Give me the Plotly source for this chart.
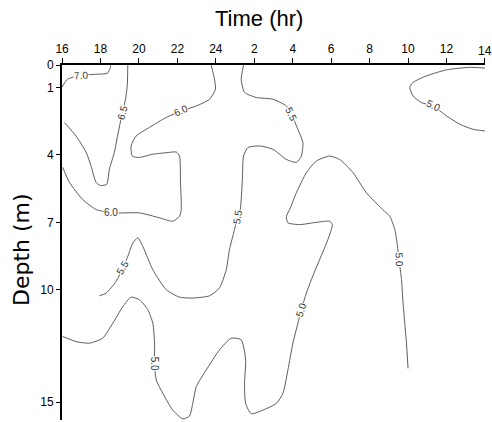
import plotly.graph_objects as go

# Time axis is continuous hours from 16:00 (day 1) to 14:00 (day 2 = 38)
x_ticks = [16, 18, 20, 22, 24, 26, 28, 30, 32, 34, 36, 38]
x_tick_labels = ["16", "18", "20", "22", "24", "2", "4", "6", "8", "10", "12", "14"]
y_ticks = [0, 1, 4, 7, 10, 15]
y_tick_labels = ["0", "1", "4", "7", "10", "15"]

# Isopleth lines (time hr, depth m)
iso70_t = [16.0, 16.28, 17.0, 17.94, 18.36, 18.52, 18.52]
iso70_d = [0.98, 0.63, 0.45, 0.40, 0.36, 0.09, 0.0]

iso65_t = [16.12, 16.73, 17.25, 17.51, 17.77, 17.99, 18.32, 18.46, 18.72, 18.88, 19.14, 19.30, 19.39, 19.42]
iso65_d = [2.56, 3.16, 3.88, 4.50, 5.22, 5.36, 5.31, 4.64, 3.88, 3.17, 2.10, 1.52, 0.92, 0.0]

iso60_t = [23.76, 23.93, 23.98, 23.67, 22.98, 22.20, 21.42, 20.55, 19.85, 19.59, 19.65, 20.03, 20.70,
           21.42, 21.94, 22.11, 22.16, 22.20, 22.11, 21.76, 21.07, 20.03, 18.62, 17.77, 17.07, 16.38, 16.03]
iso60_d = [0.0, 0.63, 1.07, 1.52, 1.82, 2.04, 2.33, 2.77, 3.16, 3.60, 4.05, 4.11, 3.97,
           3.90, 3.87, 4.05, 5.22, 6.43, 6.73, 6.95, 6.80, 6.58, 6.58, 6.43, 5.98, 5.22, 4.55]

iso55_t = [25.44, 25.32, 25.49, 26.10, 26.97, 27.67, 27.93, 28.27, 28.53, 28.45, 28.19, 27.67, 26.97,
           26.28, 25.67, 25.44, 25.38, 25.27, 25.13, 24.97, 24.71, 24.54, 24.19, 23.67, 22.80, 22.11,
           21.42, 20.72, 20.20, 19.94, 19.68, 19.42, 19.16, 18.81, 18.29, 17.94]
iso55_d = [0.0, 0.63, 1.21, 1.44, 1.52, 1.82, 2.19, 2.86, 3.45, 4.05, 4.33, 4.20, 3.75,
           3.60, 3.67, 4.05, 5.09, 6.43, 6.79, 7.32, 8.21, 9.11, 9.92, 10.27, 10.37, 10.33,
           10.0, 9.11, 8.07, 7.69, 7.92, 8.51, 9.03, 9.63, 10.15, 10.27]

iso50a_t = [16.03, 16.73, 17.42, 18.11, 18.64, 19.16, 19.59, 20.03, 20.46, 20.72, 20.81, 20.81, 20.90,
            21.24, 21.76, 22.28, 22.63, 22.80, 22.98, 23.50, 24.19, 24.80, 25.32, 25.55, 25.49, 25.55,
            25.84, 26.45, 27.15, 27.49, 27.75, 28.01, 28.27, 28.45, 28.71, 28.97, 29.40, 29.83, 30.06,
            29.92, 29.23, 28.36, 27.75, 27.67, 27.84, 28.19, 28.71, 29.23, 29.92, 30.44, 31.14, 31.83,
            32.68, 33.05, 33.31, 33.43, 33.53, 33.66, 33.74, 33.83, 33.92, 34.0]
iso50a_d = [12.08, 12.31, 12.38, 12.16, 11.49, 10.75, 10.33, 10.45, 10.89, 11.49, 12.38, 13.27, 14.02,
            14.61, 15.36, 15.75, 15.62, 15.06, 14.32, 13.57, 12.68, 12.16, 12.23, 13.13, 14.17, 15.06,
            15.52, 15.36, 15.06, 14.61, 13.57, 12.38, 11.49, 10.89, 10.15, 9.55, 8.66, 7.77, 7.10,
            6.95, 7.00, 7.10, 7.02, 6.73, 6.43, 5.68, 4.79, 4.27, 4.05, 4.20, 4.79, 5.68,
            6.43, 6.73, 7.32, 7.92, 8.66, 9.55, 10.59, 11.49, 12.38, 13.50]

iso50b_t = [38.0, 37.21, 36.0, 34.96, 34.26, 34.09, 34.26, 34.70, 35.30, 36.0, 36.69, 37.39, 38.0]
iso50b_d = [0.13, 0.10, 0.21, 0.48, 0.77, 1.0, 1.37, 1.67, 1.82, 2.26, 2.63, 2.86, 2.93]

lines = [
    (iso70_t, iso70_d),
    (iso65_t, iso65_d),
    (iso60_t, iso60_d),
    (iso55_t, iso55_d),
    (iso50a_t, iso50a_d),
    (iso50b_t, iso50b_d),
]

# Contour labels: text, time, depth, angle
label_text = ["7.0", "6.5", "6.0", "6.0", "5.5", "5.5", "5.5", "5.0", "5.0", "5.0", "5.0"]
label_t = [17.0, 19.14, 22.2, 18.52, 27.93, 25.13, 19.16, 20.81, 28.45, 33.53, 35.3]
label_d = [0.45, 2.10, 2.04, 6.56, 2.19, 6.79, 9.03, 13.27, 10.89, 8.66, 1.82]
label_angle = [-5, -75, -25, 0, 65, -82, -60, 90, -72, 88, 25]

tick_font = dict(family="Liberation Sans, Arial", size=12, color="black")

fig = go.Figure()
for t, d in lines:
    fig.add_trace(go.Scatter(
        x=t, y=d, mode="lines",
        line=dict(color="#4a4a4a", width=0.9, shape="spline", smoothing=0.6),
        hoverinfo="skip", showlegend=False,
    ))

for txt, t, d, a in zip(label_text, label_t, label_d, label_angle):
    fig.add_annotation(
        x=t, y=d, text=txt, showarrow=False, textangle=a,
        font=dict(family="Liberation Sans, Arial", size=10, color="#333"),
        bgcolor="white", borderpad=0,
    )

fig.update_layout(
    width=492, height=422,
    margin=dict(l=62, r=7, t=65, b=2),
    paper_bgcolor="white", plot_bgcolor="white",
    showlegend=False,
    hovermode=False,
    xaxis=dict(
        side="top", range=[15.995, 38.005], tickvals=x_ticks,
        ticktext=x_tick_labels[:-1] + [""],
        showgrid=False, zeroline=False, showline=True, linecolor="black", linewidth=2,
        ticks="outside", ticklen=5, tickcolor="black", tickwidth=1,
        tickfont=tick_font,
    ),
    yaxis=dict(
        range=[15.8, -0.005], tickvals=y_ticks, ticktext=y_tick_labels,
        showgrid=False, zeroline=False, showline=True, linecolor="black", linewidth=2,
        ticks="outside", ticklen=4, tickcolor="black", tickwidth=1,
        tickfont=tick_font,
    ),
)
# last time label sits at the right edge of the figure
fig.add_annotation(
    x=x_ticks[-1], xref="x", yref="paper", y=1 + (65 - 51) / 355,
    text=x_tick_labels[-1], showarrow=False, xanchor="center", yanchor="middle",
    font=tick_font,
)

fig.add_annotation(
    xref="paper", yref="paper", x=(258.8 - 62) / 423, y=1 + (65 - 19) / 355,
    text="Time (hr)", showarrow=False, xanchor="center", yanchor="middle",
    font=dict(family="Liberation Sans, Arial", size=22, color="black"),
)
fig.add_annotation(
    xref="paper", yref="paper", x=-(62 - 21) / 423, y=1 - (250 - 65) / 355,
    text="Depth (m)", showarrow=False, xanchor="center", yanchor="middle", textangle=-90,
    font=dict(family="DejaVu Sans", size=22, color="black"),
)

fig.write_html(
    "out.html",
    config={"displayModeBar": False, "staticPlot": True},
    post_script="document.body.style.margin='0';document.body.style.overflow='hidden';",
)
